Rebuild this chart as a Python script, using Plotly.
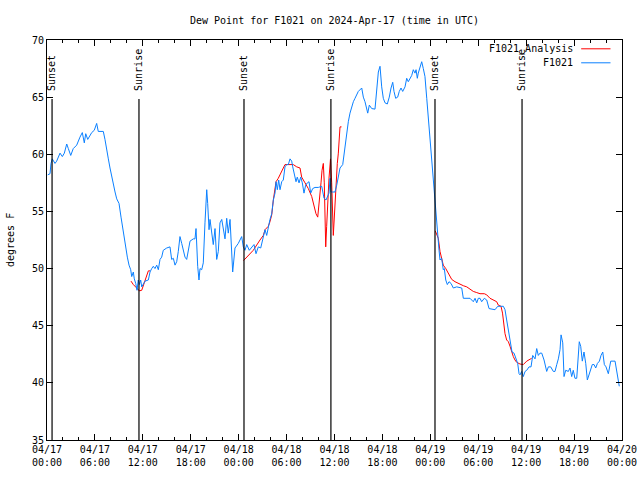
import pandas as pd
import plotly.graph_objects as go

BASE = pd.Timestamp("2024-04-17 00:00")

# F1021 observed dew point: hours since 2024-04-17 00:00 UTC, degrees F
obs_hours = [
    0.09, 0.38, 0.50, 0.66, 1.00, 1.21, 1.63, 1.92, 2.17, 2.47,
    2.67, 2.97, 3.29, 3.72, 4.13, 4.42, 4.67, 4.85, 5.10, 5.38,
    5.60, 5.92, 6.22, 6.42, 6.85, 7.05, 7.26, 7.48, 7.68, 7.89,
    8.10, 8.30, 8.52, 8.73, 9.02, 9.27, 9.43, 9.64, 9.85, 10.06,
    10.27, 10.48, 10.61, 10.81, 10.93, 11.11, 11.27, 11.43, 11.56, 11.73,
    11.86, 12.06, 12.27, 12.69, 12.90, 13.11, 13.31, 13.52, 13.74, 13.94,
    14.15, 14.36, 14.56, 14.99, 15.40, 15.61, 15.82, 16.03, 16.24, 16.44,
    16.65, 16.87, 17.07, 17.28, 17.49, 17.69, 17.91, 18.32, 18.53, 18.66,
    18.75, 18.87, 19.03, 19.16, 19.37, 19.57, 19.78, 20.00, 20.12, 20.29,
    20.41, 20.62, 20.82, 21.04, 21.25, 21.45, 21.66, 21.88, 22.08, 22.29,
    22.50, 22.70, 22.92, 23.13, 23.25, 23.54, 23.95, 24.38, 24.58, 24.79,
    25.01, 25.33, 25.63, 25.92, 26.17, 26.46, 26.76, 27.01, 27.30, 27.51,
    27.71, 27.92, 28.14, 28.34, 28.55, 28.68, 28.84, 29.01, 29.18, 29.39,
    29.59, 29.80, 30.02, 30.22, 30.43, 30.64, 30.77, 30.97, 31.18, 31.34,
    31.56, 31.77, 31.97, 32.18, 32.39, 32.60, 32.81, 33.02, 33.27, 33.56,
    33.97, 34.40, 34.69, 34.94, 35.15, 35.31, 35.44, 35.56, 35.77, 36.06,
    36.28, 36.48, 36.69, 37.03, 37.19, 37.40, 37.60, 37.73, 37.94, 38.15,
    38.36, 38.57, 38.78, 38.98, 39.41, 39.61, 39.82, 40.03, 40.16, 40.36,
    40.66, 41.07, 41.29, 41.49, 41.70, 41.79, 41.91, 42.11, 42.33, 42.61,
    42.86, 43.08, 43.29, 43.45, 43.66, 43.91, 44.11, 44.33, 44.54, 44.83,
    45.04, 45.24, 45.45, 45.67, 45.87, 46.08, 46.21, 46.37, 46.49, 46.71,
    46.92, 47.12, 47.33, 47.55, 47.75, 47.96, 48.09, 48.25, 48.46, 48.59,
    48.67, 48.80, 48.92, 49.09, 49.21, 49.42, 49.62, 49.75, 49.93, 50.13,
    50.34, 50.59, 50.88, 51.30, 51.93, 52.13, 52.97, 53.38, 53.60, 53.81,
    54.01, 54.22, 54.43, 54.76, 55.06, 55.35, 56.10, 56.44, 57.14, 57.35,
    57.56, 57.77, 57.89, 58.07, 58.23, 58.48, 58.73, 58.94, 59.11, 59.23,
    59.44, 59.64, 59.86, 60.07, 60.36, 60.61, 60.82, 61.11, 61.32, 61.52,
    61.73, 61.95, 62.24, 62.57, 62.78, 63.07, 63.40, 63.61, 63.83, 64.03,
    64.24, 64.37, 64.58, 64.74, 64.95, 65.28, 65.49, 65.70, 65.90, 66.11,
    66.33, 66.53, 66.65, 66.83, 67.03, 67.24, 67.46, 67.66, 67.87, 68.08,
    68.28, 68.50, 68.71, 68.92, 69.17, 69.37, 69.59, 69.79, 70.00, 70.29,
    70.59, 71.13, 71.34, 71.54, 71.66,
]
obs_dewpt = [
    58.2, 58.3, 59.2, 59.6, 59.2, 59.4, 60.1, 59.8, 60.1, 60.9,
    60.5, 59.9, 60.5, 60.8, 61.5, 61.9, 61.0, 61.8, 61.3, 61.7,
    61.9, 62.1, 62.7, 62.0, 62.0, 62.0, 61.3, 60.2, 59.6, 58.8,
    58.0, 57.3, 56.7, 56.1, 55.7, 54.5, 53.7, 52.8, 51.9, 51.0,
    50.3, 49.9, 49.3, 49.7, 49.1, 48.7, 48.1, 49.0, 48.6, 49.0,
    48.4, 48.7, 48.9, 49.0, 49.7, 50.0, 50.2, 50.0, 50.3, 49.9,
    50.8, 51.0, 51.6, 51.8, 51.9, 50.8, 50.9, 50.3, 50.6, 51.5,
    52.8, 52.2, 51.5, 51.0, 50.8, 51.6, 52.4, 52.6, 52.6, 53.5,
    51.9, 50.2, 49.0, 50.0, 49.9, 50.5, 54.0, 56.9, 55.7, 53.4,
    54.3, 53.1, 52.1, 53.5, 50.8, 51.5, 54.0, 54.3, 53.4, 52.6,
    54.4, 53.1, 54.3, 50.5, 49.7, 51.8, 52.2, 52.8, 51.9, 51.6,
    52.1, 51.6, 51.9, 52.1, 51.3, 51.9, 51.8, 52.5, 53.4, 52.9,
    53.7, 54.3, 54.8, 56.0, 56.6, 57.6, 56.9, 57.75, 56.9, 57.6,
    57.75, 58.9, 59.1, 59.1, 59.6, 59.4, 58.9, 58.2, 57.6, 58.0,
    57.5, 58.0, 57.5, 56.6, 57.3, 57.5, 57.6, 56.6, 57.0, 57.1,
    57.1, 57.2, 56.15, 56.0, 56.4, 56.6, 57.9, 56.7, 56.7, 56.7,
    57.3, 58.0, 58.8, 59.1, 60.0, 61.1, 62.0, 62.85, 63.6, 64.2,
    64.6, 64.9, 65.3, 65.5, 65.8, 65.0, 64.6, 64.0, 63.6, 64.3,
    64.0, 63.95, 65.8, 67.2, 67.7, 66.8, 65.9, 64.9, 64.5, 64.4,
    65.0, 65.8, 66.3, 65.5, 64.9, 65.0, 65.5, 65.8, 65.5, 65.9,
    66.65, 66.35, 66.65, 66.9, 67.4, 67.1, 67.4, 66.65, 67.1, 67.7,
    68.1, 67.5, 66.8, 64.9, 63.15, 61.4, 60.0, 58.2, 57.0, 56.0,
    54.5, 53.7, 52.5, 51.6, 50.75, 50.9, 49.9, 50.0, 49.0, 48.6,
    48.85, 48.7, 48.3, 48.4, 48.3, 47.4, 47.4, 47.1, 47.4, 47.0,
    47.4, 47.4, 47.1, 47.4, 47.25, 46.5, 46.4, 46.7, 46.7, 46.4,
    45.5, 44.6, 43.75, 43.0, 42.7, 42.6, 42.0, 41.7, 40.8, 40.7,
    41.0, 40.55, 41.0, 41.1, 41.4, 41.4, 42.4, 42.1, 43.0, 42.4,
    42.6, 42.6, 42.0, 41.0, 41.4, 41.4, 41.0, 41.0, 41.6, 42.1,
    42.9, 44.2, 43.5, 40.55, 41.1, 41.0, 41.3, 40.55, 41.1, 40.4,
    40.4, 42.6, 43.6, 43.2, 41.9, 42.7, 41.7, 40.25, 40.7, 41.3,
    41.6, 41.6, 41.3, 41.7, 41.9, 42.4, 42.7, 41.6, 41.4, 40.8,
    41.9, 41.9, 41.0, 40.25, 39.7,
]

# F1021_Analysis: three separate segments
ana1_hours = [10.52, 10.81, 11.23, 11.56, 11.86, 12.06, 12.27, 12.48, 12.69, 12.90]
ana1_dewpt = [48.9, 48.6, 48.3, 48.05, 48.1, 48.5, 49.0, 49.5, 49.8, 49.8]

ana2_hours = [24.61, 25.01, 25.83, 26.67, 27.09, 27.30, 27.71, 27.92, 28.14, 28.34,
              28.68, 28.96, 29.39, 29.80, 30.84, 31.27, 31.68, 31.89, 32.31, 32.72,
              33.15, 33.43, 33.68, 33.90, 34.10, 34.31, 34.44, 34.60, 34.72, 34.81,
              34.90, 35.02, 35.15, 35.31, 35.50, 35.65, 35.85, 35.98, 36.19, 36.35,
              36.48, 36.60, 36.69, 36.88]
ana2_dewpt = [50.7, 51.0, 51.6, 52.5, 52.9, 53.4, 53.7, 54.1, 54.7, 56.0,
              57.6, 57.9, 58.5, 59.1, 59.1, 58.9, 58.8, 58.0, 57.5, 57.0,
              56.3, 55.6, 54.8, 54.5, 55.7, 57.5, 58.6, 59.2, 57.5, 54.5,
              51.9, 53.7, 56.0, 57.9, 59.6, 57.5, 52.9, 54.8, 57.2, 59.2,
              60.1, 62.1, 62.4, 62.4]

ana3_hours = [48.62, 49.00, 49.21, 49.42, 49.62, 49.93, 50.18, 50.47, 50.68, 51.09,
              51.50, 52.13, 52.56, 52.97, 53.38, 53.81, 54.22, 54.76, 55.06, 55.47,
              55.89, 56.31, 56.51, 56.85, 57.04, 57.23, 57.35, 57.56, 57.77, 57.98,
              58.19, 58.39, 58.60, 58.81, 59.23, 59.64, 60.07, 60.48, 60.69]
ana3_dewpt = [53.3, 52.65, 51.5, 50.75, 50.3, 50.0, 49.7, 49.3, 49.05, 48.85,
              48.7, 48.5, 48.4, 48.2, 48.0, 47.9, 47.8, 47.8, 47.7, 47.4,
              47.25, 47.1, 46.8, 46.7, 46.1, 45.0, 44.3, 43.75, 43.6, 43.2,
              42.6, 42.3, 42.0, 41.8, 41.65, 41.6, 41.9, 42.05, 42.15]

sun_times = ["2024-04-17 00:38", "2024-04-17 11:31", "2024-04-18 00:40",
             "2024-04-18 11:33", "2024-04-19 00:35", "2024-04-19 11:29"]
sun_labels = ["Sunset", "Sunrise", "Sunset", "Sunrise", "Sunset", "Sunrise"]

assert len(obs_hours) == len(obs_dewpt)
assert len(ana1_hours) == len(ana1_dewpt)
assert len(ana2_hours) == len(ana2_dewpt)
assert len(ana3_hours) == len(ana3_dewpt)


def to_time(hours):
    return [None if h is None else BASE + pd.Timedelta(hours=h) for h in hours]


ana_hours = ana1_hours + [None] + ana2_hours + [None] + ana3_hours
ana_dewpt = ana1_dewpt + [None] + ana2_dewpt + [None] + ana3_dewpt

FONT = "DejaVu Sans Mono"
RED = "#ff0000"
BLUE = "#0a80ff"
FIG_W, FIG_H = 640, 480

fig = go.Figure()
fig.add_trace(go.Scatter(x=to_time(ana_hours), y=ana_dewpt, mode="lines",
                         name="F1021_Analysis", connectgaps=False,
                         line=dict(color=RED, width=1), showlegend=False))
fig.add_trace(go.Scatter(x=to_time(obs_hours), y=obs_dewpt, mode="lines",
                         name="F1021", line=dict(color=BLUE, width=1),
                         showlegend=False))

shapes = []
annotations = []
for t, lab in zip(sun_times, sun_labels):
    shapes.append(dict(type="line", xref="x", yref="paper", x0=t, x1=t,
                       y0=0, y1=0.8525, line=dict(color="black", width=1.2)))
    annotations.append(dict(x=t, y=0.8675, xref="x", yref="paper", text=lab,
                            textangle=-90, showarrow=False, yanchor="bottom",
                            xanchor="center",
                            font=dict(family=FONT, size=10, color="black")))

# legend (gnuplot style: text then sample)
for label, color, yp in [("F1021_Analysis", RED, 0.978), ("F1021", BLUE, 0.943)]:
    annotations.append(dict(x=0.9183, y=yp, xref="paper", yref="paper",
                            text=label, showarrow=False, xanchor="right",
                            yanchor="middle",
                            font=dict(family=FONT, size=10, color="black")))
    shapes.append(dict(type="line", xref="paper", yref="paper", x0=0.929,
                       x1=0.98, y0=yp, y1=yp, line=dict(color=color, width=1)))

annotations.append(dict(x=0, y=0.5, xref="paper", yref="paper", xshift=-37,
                        text="degrees F", textangle=-90, showarrow=False,
                        xanchor="center", yanchor="middle",
                        font=dict(family=FONT, size=10, color="black")))

fig.update_layout(
    width=FIG_W, height=FIG_H,
    margin=dict(l=47, r=18, t=40, b=40, autoexpand=False),
    paper_bgcolor="white", plot_bgcolor="white",
    font=dict(family=FONT, size=10, color="black"),
    title=dict(text="Dew Point for F1021 on 2024-Apr-17 (time in UTC)",
               x=0.5, xref="paper", xanchor="center",
               y=1 - 20 / FIG_H, yref="container", yanchor="middle",
               font=dict(family=FONT, size=10, color="black")),
    shapes=shapes, annotations=annotations,
    showlegend=False,
)
fig.update_xaxes(
    type="date", automargin=False,
    range=[BASE, BASE + pd.Timedelta(hours=72)],
    tick0=BASE, dtick=6 * 3600 * 1000,
    tickformat="%m/%d<br>%H:%M",
    ticks="inside", ticklen=6, tickcolor="black",
    minor=dict(dtick=2 * 3600 * 1000, ticks="inside", ticklen=3, tickcolor="black"),
    showline=True, linecolor="black", linewidth=1, mirror="allticks",
    showgrid=False, zeroline=False,
    tickfont=dict(family=FONT, size=10, color="black"),
)
fig.update_yaxes(
    range=[35, 70], dtick=5, tick0=35, automargin=False,
    ticks="inside", ticklen=6, tickcolor="black",
    showline=True, linecolor="black", linewidth=1, mirror="allticks",
    showgrid=False, zeroline=False,
    tickfont=dict(family=FONT, size=10, color="black"),
)

# remove the page's default body margin so the 640x480 figure fills the window
fig.write_html(
    "out.html",
    config={"displayModeBar": False},
    post_script="document.body.style.margin='0';"
                "document.body.style.overflow='hidden';",
)
